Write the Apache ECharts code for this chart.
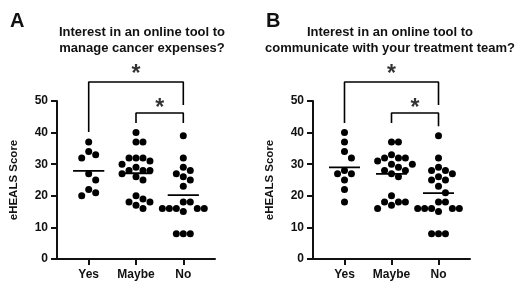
<!DOCTYPE html>
<html><head><meta charset="utf-8">
<script src="https://cdn.jsdelivr.net/npm/echarts@6/dist/echarts.min.js"></script>
<style>html,body{margin:0;padding:0;background:#fff}#c{width:520px;height:292px}</style>
</head><body><div id="c"></div>
<script>
var categories = ['Yes', 'Maybe', 'No'];
var yTicks = [0, 10, 20, 30, 40, 50];
var titleA = 'Interest in an online tool to\nmanage cancer expenses?';
var titleB = 'Interest in an online tool to\ncommunicate with your treatment team?';
var yesA = [37, 34, 33, 32, 27, 25, 22, 21, 20];
var maybeA = [40, 37, 37, 32, 32, 32, 31, 30, 29, 28, 28, 28, 27, 26, 25, 20, 19, 18, 18, 17, 16];
var noA = [39, 32, 29, 28, 27, 26, 25, 23, 18, 18, 16, 16, 16, 16, 16, 15, 8, 8, 8];
var yesB = [40, 37, 34, 32, 28, 27, 27, 25, 22, 18];
var maybeB = [37, 37, 33, 32, 32, 32, 31, 30, 30, 29, 28, 28, 27, 26, 20, 18, 18, 18, 17, 16];
var noB = [39, 32, 29, 28, 28, 27, 26, 25, 25, 23, 21, 18, 18, 16, 16, 16, 16, 16, 15, 8, 8, 8];
// significance brackets: [from category, to category, bar level, left leg end, right leg end]
var bracketsA = [[0, 2, 56, 40.2, 48.7], [1, 2, 46.2, 43, 43]];
var bracketsB = [[0, 2, 56, 43, 48.7], [1, 2, 46.2, 43, 42]];
var starsA = [[1, 58.2], [1.5, 47.6]];
var starsB = [[1, 58.2], [1.5, 47.6]];

var FONT = 'Arial, "Liberation Sans", sans-serif';
var PX_PER_X = 47.4, PX_PER_Y = 3.16, DOT = 7;

function swarm(vals, ci) {
  var sorted = vals.slice().sort(function(a,b){return b-a;});
  var placed = [];
  sorted.forEach(function(v){
    var off = 0;
    for (var n = 0; n < 40; n++) {
      var cand = n === 0 ? 0 : (n % 2 ? 1 : -1) * Math.ceil(n/2);
      var ox = cand * DOT;
      var ok = placed.every(function(p){
        var dx = p[0]-ox, dy = (p[1]-v)*PX_PER_Y;
        return dx*dx+dy*dy >= (DOT-0.5)*(DOT-0.5);
      });
      if (ok) { off = ox; break; }
    }
    placed.push([off, v]);
  });
  return placed.map(function(p){ return [ci + p[0]/PX_PER_X, p[1]]; });
}
function mean(a){ return a.reduce(function(s,x){return s+x;},0)/a.length; }

function panel(idx, groups, brackets, stars) {
  var series = [];
  var pts = [];
  groups.forEach(function(g, i){ pts = pts.concat(swarm(g, i)); });
  series.push({type:'scatter', xAxisIndex:idx, yAxisIndex:idx, data:pts, symbolSize:DOT,
    itemStyle:{color:'#000', opacity:1}, silent:true, z:3});
  var ml = [];
  groups.forEach(function(g, i){
    var m = mean(g);
    ml.push([i-0.33, m], [i+0.33, m], null);
  });
  series.push({type:'line', xAxisIndex:idx, yAxisIndex:idx, data:ml, symbol:'none',
    connectNulls:false, lineStyle:{color:'#000', width:1.8}, silent:true, z:4});
  brackets.forEach(function(b){
    series.push({type:'line', xAxisIndex:idx, yAxisIndex:idx, clip:false, symbol:'none',
      data:[[b[0], b[3]], [b[0], b[2]], [b[1], b[2]], [b[1], b[4]]],
      lineStyle:{color:'#000', width:1.6}, silent:true});
  });
  series.push({type:'scatter', xAxisIndex:idx, yAxisIndex:idx, clip:false, symbolSize:1,
    itemStyle:{color:'rgba(0,0,0,0)'}, data:stars, silent:true,
    label:{show:true, position:'inside', formatter:'*', color:'#000', fontSize:23,
      fontWeight:'bold', fontFamily:FONT}});
  return series;
}

function xAxis(idx){
  return {type:'value', gridIndex:idx, min:-0.67, max:2.67, splitLine:{show:false},
    axisLine:{show:true, onZero:false, lineStyle:{color:'#111', width:2}},
    axisTick:{show:true, customValues:[0,1,2], length:6, lineStyle:{color:'#111', width:2}},
    axisLabel:{customValues:[0,1,2], formatter:function(v){return categories[Math.round(v)];},
      color:'#111', fontSize:12, fontWeight:'bold', fontFamily:FONT, margin:10}};
}
function yAxis(idx){
  return {type:'value', gridIndex:idx, min:yTicks[0], max:yTicks[yTicks.length-1], interval:10,
    name:'eHEALS Score', nameLocation:'middle', nameRotate:90, nameGap:37,
    nameTextStyle:{color:'#111', fontSize:11.5, fontWeight:'bold', fontFamily:FONT},
    splitLine:{show:false},
    axisLine:{show:true, onZero:false, lineStyle:{color:'#111', width:2}},
    axisTick:{show:true, length:6, lineStyle:{color:'#111', width:2}},
    axisLabel:{color:'#111', fontSize:12, fontWeight:'bold', fontFamily:FONT, margin:9}};
}

var chart = echarts.init(document.getElementById('c'), null, {renderer:'canvas'});
chart.setOption({
  animation:false,
  backgroundColor:'#fff',
  title:[
    {text:'A', left:5, top:6, textStyle:{fontSize:20, fontWeight:'bold', color:'#111', fontFamily:FONT}},
    {text:'B', left:261, top:6, textStyle:{fontSize:20, fontWeight:'bold', color:'#111', fontFamily:FONT}},
    {text:titleA, left:137, top:20, textAlign:'center', textStyle:{fontSize:13, fontWeight:'bold', color:'#111', lineHeight:15.5, fontFamily:FONT}},
    {text:titleB, left:385, top:20, textAlign:'center', textStyle:{fontSize:13, fontWeight:'bold', color:'#111', lineHeight:15.5, fontFamily:FONT}}
  ],
  grid:[
    {left:57, top:101, width:158, height:158},
    {left:313, top:101, width:157, height:158}
  ],
  xAxis:[xAxis(0), xAxis(1)],
  yAxis:[yAxis(0), yAxis(1)],
  series: panel(0, [yesA, maybeA, noA], bracketsA, starsA).concat(panel(1, [yesB, maybeB, noB], bracketsB, starsB))
});
</script></body></html>
